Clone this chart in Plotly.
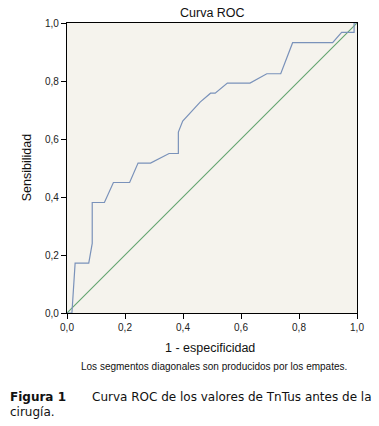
import plotly.graph_objects as go

# ROC curve values
fpr = [0.0, 0.017, 0.028, 0.075, 0.087, 0.087, 0.129, 0.16, 0.216, 0.245, 0.288,
       0.352, 0.384, 0.384, 0.399, 0.459, 0.495, 0.511, 0.553, 0.631, 0.689,
       0.737, 0.778, 0.916, 0.947, 0.99, 0.99, 1.0]
tpr = [0.0, 0.0, 0.172, 0.172, 0.24, 0.381, 0.381, 0.45, 0.45, 0.517, 0.517,
       0.55, 0.55, 0.624, 0.662, 0.727, 0.758, 0.758, 0.793, 0.793, 0.825,
       0.825, 0.932, 0.932, 0.968, 0.968, 1.0, 1.0]
ref_x = [0.0, 1.0]
ref_y = [0.0, 1.0]
tick_vals = [0.0, 0.2, 0.4, 0.6, 0.8, 1.0]
tick_text = ["0,0", "0,2", "0,4", "0,6", "0,8", "1,0"]

W, H = 379, 426
L, R, T, B = 67, 357, 22.5, 313

def px(x):
    return (x - L) / (R - L)

def py(y):
    return (B - y) / (B - T)

fig = go.Figure()
fig.add_trace(go.Scatter(x=ref_x, y=ref_y, mode="lines",
                         line=dict(color="rgb(96,164,110)", width=1.1), hoverinfo="skip"))
fig.add_trace(go.Scatter(x=fpr, y=tpr, mode="lines",
                         line=dict(color="rgb(122,146,186)", width=1.2), hoverinfo="skip"))

axis_common = dict(range=[0, 1], tickvals=tick_vals, ticktext=tick_text,
                   showgrid=False, zeroline=False, showline=True, linecolor="black",
                   linewidth=1.2, mirror=True, ticks="outside", ticklen=5,
                   tickcolor="black", tickwidth=1,
                   tickfont=dict(family="Liberation Sans, Arial", size=10, color="#222"))

fig.update_layout(
    width=W, height=H,
    margin=dict(l=L, r=W - R, t=T, b=H - B),
    paper_bgcolor="white", plot_bgcolor="#f5f3ed",
    showlegend=False,
    xaxis=dict(**axis_common),
    yaxis=dict(**axis_common),
    font=dict(family="Liberation Sans, Arial", color="#111"),
)

ann = []
def add(text, x, y, size, family="Liberation Sans, Arial", xanchor="center", angle=0):
    ann.append(dict(text=text, x=px(x), y=py(y), xref="paper", yref="paper",
                    showarrow=False, xanchor=xanchor, yanchor="middle",
                    textangle=angle, font=dict(size=size, family=family, color="#111")))

add("Curva ROC", 212, 12, 12.5)
add("1 - especificidad", 210, 348, 12.5)
add("Sensibilidad", 27, 168, 12.5, angle=-90)
add("Los segmentos diagonales son producidos por los empates.", 214, 367, 10)
add("<b>Figura 1</b>", 8, 397, 12, family="DejaVu Sans", xanchor="left")
add("Curva ROC de los valores de TnTus antes de la", 374, 397, 12,
    family="DejaVu Sans", xanchor="right")
add("cirugía.", 8, 412, 12, family="DejaVu Sans", xanchor="left")
fig.update_layout(annotations=ann)

fig.write_html("out.html", config={"displayModeBar": False},
               post_script="document.body.style.margin='0';")
